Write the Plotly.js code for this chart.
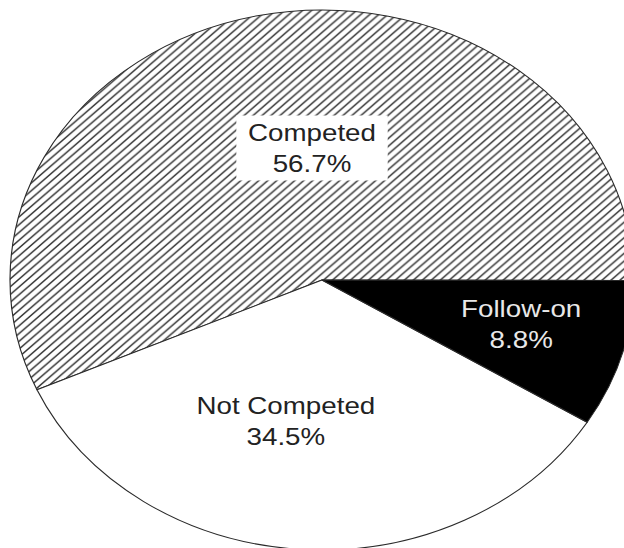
<!DOCTYPE html>
<html>
<head>
<meta charset="utf-8">
<script src="https://cdn.plot.ly/plotly-3.0.1.min.js"></script>
<style>
  html, body { margin: 0; padding: 0; background: #fff; }
  #wrap { width: 624px; height: 548px; overflow: hidden; position: relative; }
  #plot { width: 560px; height: 560px; transform: scaleX(1.1556); transform-origin: 0 0; }
</style>
</head>
<body>
<div id="wrap"><div id="plot"></div></div>
<script>
// Data
var labels = ["Competed", "Not Competed", "Follow-on"];
var values = [56.7, 34.5, 8.8];
var sliceColors = ["#ffffff", "#ffffff", "#000000"];
var patternShapes = ["/", "", ""];

var trace = {
  type: "pie",
  labels: labels,
  values: values,
  sort: false,
  direction: "counterclockwise",
  rotation: -114,
  textinfo: "none",
  hoverinfo: "skip",
  showlegend: false,
  domain: { x: [0.01545, 0.97973], y: [0.01786, 0.98214] },
  marker: {
    colors: sliceColors,
    line: { color: "#2a2a2a", width: 1 },
    pattern: { shape: patternShapes, fgcolor: "#333333", size: 5.5, solidity: 0.25 }
  }
};

function labelText(i) { return labels[i] + "<br>" + values[i].toFixed(1) + "%"; }

var fontBase = { family: "Liberation Sans, Arial, sans-serif", size: 24, color: "#222222" };

function ann(i, x, y, extra) {
  var a = { text: labelText(i), x: x, y: y, xref: "paper", yref: "paper",
            xanchor: "center", yanchor: "middle", showarrow: false, align: "center",
            font: fontBase };
  for (var k in extra) a[k] = extra[k];
  return a;
}

var layout = {
  width: 560, height: 560,
  margin: { l: 0, r: 0, t: 0, b: 0 },
  paper_bgcolor: "#ffffff",
  annotations: [
    ann(0, 0.4821, 0.7357, { bgcolor: "#ffffff", width: 128, height: 62, borderpad: 1, valign: "middle" }),
    ann(1, 0.4420, 0.2482, {}),
    ann(2, 0.8051, 0.4214, { font: { family: fontBase.family, size: 24, color: "#e8e8e8" } })
  ]
};

Plotly.newPlot("plot", [trace], layout, { displayModeBar: false, staticPlot: true });
</script>
</body>
</html>
